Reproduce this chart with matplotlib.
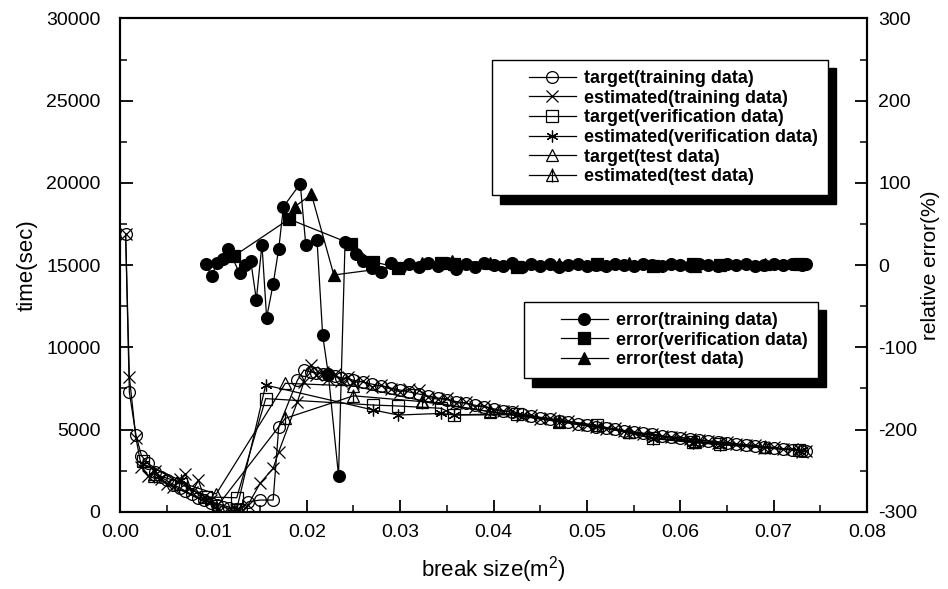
import matplotlib
matplotlib.use("Agg")
import matplotlib.pyplot as plt
from matplotlib.lines import Line2D
from matplotlib.legend_handler import HandlerTuple, HandlerLine2D
from matplotlib.ticker import MultipleLocator, FormatStrFormatter

plt.rcParams['font.family'] = ['Liberation Sans', 'DejaVu Sans']
plt.rcParams['mathtext.default'] = 'regular'
plt.rcParams['axes.unicode_minus'] = False

# ---- training data (target / estimated time, sec) ----
train_x = [0.0006, 0.0010, 0.0017, 0.0023, 0.0030, 0.0037, 0.0044, 0.0050, 0.0057, 0.0064,
           0.0070, 0.0077, 0.0084, 0.0090, 0.0097, 0.0104, 0.0110, 0.0117, 0.0124, 0.0130,
           0.0137, 0.0150, 0.0164, 0.0170, 0.0190, 0.0197, 0.0204, 0.0210, 0.0217, 0.0223,
           0.0230, 0.0237, 0.0244, 0.0250, 0.026, 0.027, 0.028, 0.029, 0.030, 0.031,
           0.032, 0.033, 0.034, 0.035, 0.036, 0.037, 0.038, 0.039, 0.040, 0.041,
           0.042, 0.043, 0.044, 0.045, 0.046, 0.047, 0.048, 0.049, 0.050, 0.051,
           0.052, 0.053, 0.054, 0.055, 0.056, 0.057, 0.058, 0.059, 0.060, 0.061,
           0.062, 0.063, 0.064, 0.065, 0.066, 0.067, 0.068, 0.069, 0.070, 0.071,
           0.072, 0.073, 0.0735]
train_target = [16900, 7260, 4670, 3400, 2940, 2400, 2100, 1900, 1650, 1450,
                1250, 1050, 850, 700, 550, 400, 300, 200, 150, 150,
                600, 710, 710, 5170, 8000, 8620, 8500, 8450, 8380, 8300,
                8230, 8150, 8080, 8000, 7880, 7760, 7640, 7520, 7400, 7280,
                7160, 7040, 6920, 6810, 6700, 6590, 6480, 6370, 6260, 6150,
                6040, 5930, 5820, 5720, 5620, 5530, 5440, 5350, 5260, 5180,
                5100, 5020, 4940, 4860, 4780, 4700, 4620, 4560, 4500, 4440,
                4380, 4320, 4260, 4200, 4140, 4080, 4020, 3960, 3900, 3840,
                3780, 3720, 3690]
train_est = [16900, 8200, 4500, 2700, 2200, 2500, 2000, 1700, 1500, 2000,
             2300, 1200, 1900, 900, 700, 100, -50, 50, 100, 0,
             400, 1730, 2640, 3650, 6690, 7900, 8920, 8300, 8500, 8100,
             8350, 7950, 8200, 7850, 7950, 7600, 7700, 7450, 7300, 7450,
             7400, 6950, 6850, 6900, 6600, 6650, 6400, 6450, 6200, 6100,
             6150, 5850, 5900, 5650, 5700, 5450, 5500, 5300, 5250, 5150,
             5050, 5080, 4900, 4850, 4720, 4750, 4580, 4520, 4550, 4400,
             4350, 4300, 4200, 4230, 4100, 4050, 4050, 3900, 3920, 3800,
             3820, 3650, 3700]

# ---- verification data ----
verif_x = [0.0025, 0.0065, 0.0092, 0.0125, 0.0156, 0.0271, 0.0298, 0.0344, 0.0358,
           0.0425, 0.0511, 0.0571, 0.0614, 0.0643, 0.0727]
verif_target = [3100, 1700, 900, 850, 6880, 6490, 6430, 6290, 5900,
                5950, 5250, 4500, 4250, 4100, 3750]
verif_est = [2900, 1900, 700, 150, 7700, 6190, 5880, 5980, 5880,
             5900, 5200, 4450, 4200, 4080, 3720]

# ---- test data ----
test_x = [0.0036, 0.0103, 0.0177, 0.0250, 0.0323, 0.0396, 0.0470, 0.0545, 0.0616, 0.0691]
test_target = [2300, 1080, 7810, 7650, 6760, 6080, 5475, 4870, 4260, 3950]
test_est = [2150, 250, 5680, 7050, 6700, 6100, 5500, 4850, 4280, 3930]

# ---- relative error (%) ----
err_train_x = [0.0092, 0.0098, 0.0104, 0.0110, 0.0116, 0.0128, 0.0134, 0.0140, 0.0146, 0.0152,
               0.0157, 0.0164, 0.0170, 0.0175, 0.0193, 0.0199, 0.0211, 0.0217, 0.0223, 0.0234,
               0.0241, 0.0253, 0.026, 0.027, 0.028, 0.029, 0.030, 0.031, 0.032, 0.033,
               0.034, 0.035, 0.036, 0.037, 0.038, 0.039, 0.040, 0.041, 0.042, 0.043,
               0.044, 0.045, 0.046, 0.047, 0.048, 0.049, 0.050, 0.051, 0.052, 0.053,
               0.054, 0.055, 0.056, 0.057, 0.058, 0.059, 0.060, 0.061, 0.062, 0.063,
               0.064, 0.065, 0.066, 0.067, 0.068, 0.069, 0.070, 0.071, 0.072, 0.073, 0.0735]
err_train = [1, -13, 2, 8, 20, -10, 0, 5, -42, 25,
             -64, -23, 20, 71, 99, 24, 30, -85, -132, -256,
             28, 14, 5, -3, -8, 2, -4, 1, -2, 3,
             -1, 2, -5, 1, -2, 2, 0, -1, 3, -2,
             1, -1, 1, -2, 0, 1, -1, 0, -1, 1,
             0, -1, 1, 0, -1, 1, 0, -1, 1, 0,
             -1, 1, 0, 1, -1, 0, 1, 0, 1, 0, 1]
err_verif_x = [0.0122, 0.0181, 0.0247, 0.0271, 0.0298, 0.0344, 0.0358, 0.0425, 0.0511,
               0.0571, 0.0614, 0.0643, 0.0727]
err_verif = [11, 56, 26, 4, -3, 3, 1, -2, 1, -1, 1, 0, 1]
err_test_x = [0.0187, 0.0205, 0.0229, 0.0323, 0.0355, 0.0396, 0.0470, 0.0545, 0.0616, 0.0691]
err_test = [71, 86, -12, 2, 5, 3, 1, 2, -1, 1]

LW = 0.9
MS = 8.5
ASTER = (6, 2, 0)


class InsetLineHandler(HandlerLine2D):
    # legend sample line starts a bit in from the frame, like the original
    def create_artists(self, legend, orig_handle, xdescent, ydescent,
                       width, height, fontsize, trans):
        shift = width * 0.36
        return super().create_artists(legend, orig_handle, xdescent - shift, ydescent,
                                      width - shift, height, fontsize, trans)


fig = plt.figure(figsize=(9.48, 5.89), dpi=100)
ax = fig.add_axes([0.1266, 0.1312, 0.788, 0.8374])
ax2 = ax.twinx()

kw = dict(color='black', lw=LW, ms=MS, mec='black', mew=0.9)
h1, = ax.plot(train_x, train_target, marker='o', mfc='none', **kw)
h2, = ax.plot(train_x, train_est, marker='x', **kw)
h3, = ax.plot(verif_x, verif_target, marker='s', mfc='none', **kw)
h4, = ax.plot(verif_x, verif_est, marker=ASTER, **kw)
h5, = ax.plot(test_x, test_target, marker='^', mfc='none', **kw)
h6a, = ax.plot(test_x, test_est, marker='^', mfc='none', **kw)
h6b, = ax.plot(test_x, test_est, marker='|', ls='none', color='black', ms=MS + 1, mew=0.9)

e1, = ax2.plot(err_train_x, err_train, marker='o', mfc='black', **kw)
e2, = ax2.plot(err_verif_x, err_verif, marker='s', mfc='black', **kw)
e3, = ax2.plot(err_test_x, err_test, marker='^', mfc='black', **kw)

ax.set_xlim(0, 0.08)
ax.set_ylim(0, 30000)
ax2.set_ylim(-300, 300)

ax.xaxis.set_major_locator(MultipleLocator(0.01))
ax.xaxis.set_minor_locator(MultipleLocator(0.005))
ax.xaxis.set_major_formatter(FormatStrFormatter('%.2f'))
ax.yaxis.set_major_locator(MultipleLocator(5000))
ax.yaxis.set_minor_locator(MultipleLocator(2500))
ax2.yaxis.set_major_locator(MultipleLocator(100))
ax2.yaxis.set_minor_locator(MultipleLocator(50))

for a in (ax, ax2):
    a.tick_params(which='major', direction='in', length=9, width=1.3, labelsize=14)
    a.tick_params(which='minor', direction='in', length=5, width=1.1)
    for s in a.spines.values():
        s.set_linewidth(1.5)
ax.tick_params(axis='y', which='major', pad=14)
ax.tick_params(axis='x', which='major', pad=9)
ax2.tick_params(axis='y', which='major', pad=8)

ax.set_xlabel('break size(m$^2$)', fontsize=16, labelpad=9)
ax.set_ylabel('time(sec)', fontsize=16, labelpad=6)
ax2.set_ylabel('relative error(%)', fontsize=15, labelpad=3)

lprop = {'family': 'Liberation Sans', 'weight': 'bold', 'size': 13}
shadow = {'ox': 6, 'oy': -6, 'color': 'black', 'alpha': 1.0}
hmap = {Line2D: InsetLineHandler(), tuple: HandlerTuple(ndivide=1, pad=0)}
leg_kw = dict(loc='upper left', prop=lprop, handler_map=hmap,
              fancybox=False, edgecolor='black', framealpha=1, shadow=shadow,
              handlelength=4.1, handletextpad=0.45, labelspacing=0.15,
              borderpad=0.55, borderaxespad=0, numpoints=1)

leg1 = ax2.legend([h1, h2, h3, h4, h5, (h6a, h6b)],
                  ['target(training data)', 'estimated(training data)',
                   'target(verification data)', 'estimated(verification data)',
                   'target(test data)', 'estimated(test data)'],
                  bbox_to_anchor=(0.498, 0.916), **leg_kw)
leg1.get_frame().set_linewidth(1.0)
ax2.add_artist(leg1)
leg2 = ax2.legend([e1, e2, e3],
                  ['error(training data)', 'error(verification data)', 'error(test data)'],
                  bbox_to_anchor=(0.541, 0.425), **leg_kw)
leg2.get_frame().set_linewidth(1.0)

fig.savefig('out.png', dpi=100)
